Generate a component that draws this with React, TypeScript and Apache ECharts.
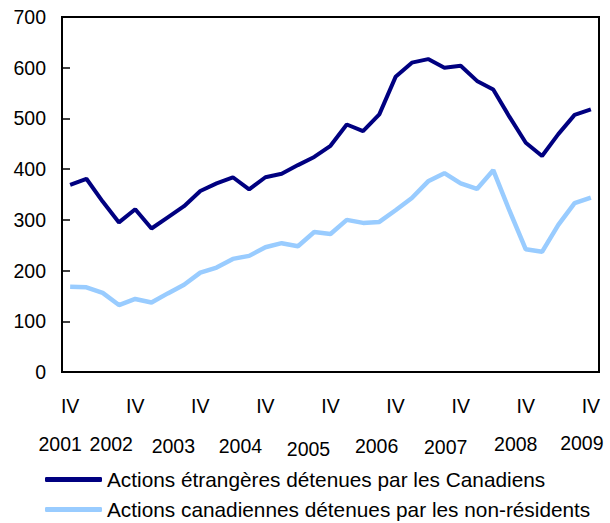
import React, { useEffect, useRef } from "react";
import * as echarts from "echarts";

const quarters: string[] = [];
for (let y = 2001; y <= 2009; y++) {
  const qs = y === 2001 ? ["IV"] : ["I", "II", "III", "IV"];
  qs.forEach((q) => quarters.push(q + " " + y));
}

const foreignByCanadians = [369, 381, 336, 295, 321, 283, 305, 327, 357, 372, 384, 360, 384, 391, 408, 424, 446, 488, 475, 508, 582, 610, 617, 600, 604, 574, 557, 503, 452, 426, 469, 507, 518];
const canadianByNonResidents = [168, 167, 156, 132, 144, 137, 155, 172, 196, 206, 223, 229, 246, 254, 248, 276, 272, 300, 294, 296, 319, 343, 376, 392, 372, 361, 398, 318, 242, 237, 290, 333, 344];

const seriesNames = [
  "Actions étrangères détenues par les Canadiens",
  "Actions canadiennes détenues par les non-résidents",
];

// label nudges for the year row (px): horizontal shift left, vertical shift down
const yearShiftLeft = [10, 24, 27, 25, 22, 19, 15, 10, 9];
const yearShiftDown = [1.5, 1.5, 3, 3, 6, 3, 4.5, 1.5, 0];

const FONT = "'Liberation Sans', Arial, sans-serif";

const yearRich: Record<string, any> = {};
yearShiftLeft.forEach((d, k) => {
  yearRich["y" + k] = {
    fontSize: 19.5,
    fontFamily: FONT,
    color: "#000",
    padding: [yearShiftDown[k], 2 * d, 0, 0],
  };
});

export default function App() {
  const ref = useRef<HTMLDivElement>(null);
  useEffect(() => {
    if (!ref.current) return;
    const chart = echarts.init(ref.current, undefined, { renderer: "svg" });
    chart.setOption({
      animation: false,
      textStyle: { fontFamily: FONT, color: "#000" },
      grid: {
        left: 62,
        top: 17,
        right: 11,
        bottom: 151,
        show: true,
        borderColor: "#000",
        borderWidth: 2,
      },
      legend: {
        orient: "vertical",
        left: 45,
        top: 469,
        height: 54,
        padding: 0,
        itemWidth: 57,
        itemHeight: 5,
        itemGap: 9,
        icon: "roundRect",
        textStyle: { fontFamily: FONT, fontSize: 20.8, lineHeight: 20, color: "#000" },
        data: seriesNames,
      },
      xAxis: [
        {
          type: "category",
          data: quarters,
          boundaryGap: true,
          axisLine: { onZero: false, lineStyle: { color: "#000", width: 2 } },
          axisTick: { inside: true, length: 7, interval: 0, lineStyle: { color: "#000", width: 1.5 } },
          axisLabel: {
            interval: (i: number) => i % 4 === 0,
            formatter: (v: string) => v.split(" ")[0],
            margin: 24,
            fontSize: 19.5,
            fontFamily: FONT,
            color: "#000",
          },
          splitLine: { show: false },
        },
        {
          type: "category",
          data: quarters,
          position: "bottom",
          boundaryGap: true,
          axisLine: { show: false, onZero: false },
          axisTick: { show: false },
          splitLine: { show: false },
          axisLabel: {
            interval: (i: number) => i % 4 === 0,
            formatter: (v: string, i: number) => {
              const k = Math.round(i / 4);
              return "{y" + k + "|" + v.split(" ")[1] + "}";
            },
            margin: 60.5,
            rich: yearRich,
          },
        },
      ],
      yAxis: {
        type: "value",
        min: 0,
        max: 700,
        interval: 100,
        axisLine: { show: true, onZero: false, lineStyle: { color: "#000", width: 2 } },
        axisTick: { show: true, inside: true, length: 8, lineStyle: { color: "#000", width: 1.5 } },
        axisLabel: { margin: 16, fontSize: 19.5, fontFamily: FONT, color: "#000" },
        splitLine: { show: false },
      },
      series: [
        {
          name: seriesNames[0],
          type: "line",
          data: foreignByCanadians,
          symbol: "none",
          lineStyle: { color: "#000080", width: 4 },
          itemStyle: { color: "#000080" },
        },
        {
          name: seriesNames[1],
          type: "line",
          data: canadianByNonResidents,
          symbol: "none",
          lineStyle: { color: "#99ccff", width: 4.5 },
          itemStyle: { color: "#99ccff" },
        },
      ],
    });
    return () => chart.dispose();
  }, []);
  return (
    <div
      ref={ref}
      style={{ position: "absolute", left: 0, top: 0, width: 610, height: 523 }}
    />
  );
}
